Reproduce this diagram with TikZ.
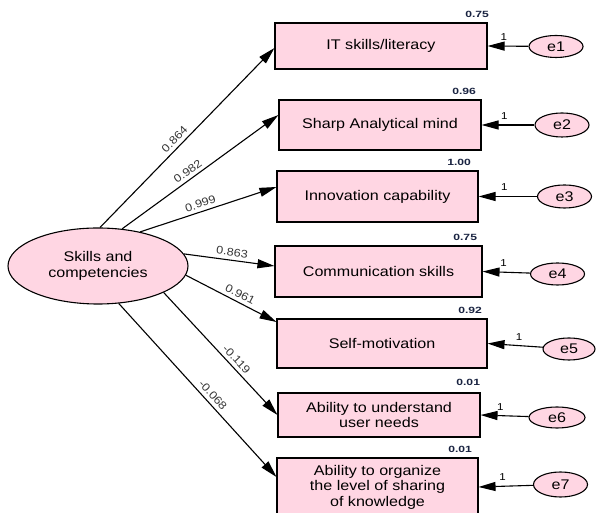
\documentclass[tikz,border=0pt]{standalone}
\usepackage{fontspec}
\setmainfont{Liberation Sans}[FakeStretch=1.15]
\newfontfamily\smallfont{Liberation Sans}[FakeStretch=1.35]
\usetikzlibrary{arrows.meta,shapes.geometric,positioning,calc}
\definecolor{boxpink}{RGB}{255,214,227}
\definecolor{labgray}{RGB}{55,55,55}
\definecolor{varblack}{RGB}{25,35,65}

\begin{document}
\begin{tikzpicture}[x=1pt,y=1pt,>={Triangle[length=17pt,width=9pt]},line width=1.1pt,
	item node/.style={rectangle,draw,fill=boxpink,inner sep=0pt,align=center,font=\fontsize{14}{15.5}\selectfont},
	latent node/.style={ellipse,draw,fill=boxpink,inner sep=0pt,align=center,font=\fontsize{14}{15.5}\selectfont},
	error node/.style={ellipse,draw,fill=boxpink,inner sep=0pt,minimum width=54pt,minimum height=22pt,font=\fontsize{14}{16}\selectfont},
	var label/.style={anchor=south east,inner sep=1pt,yshift=3pt,text=varblack,font=\smallfont\bfseries\fontsize{9}{10}\selectfont}]
	\useasboundingbox (0,0) rectangle (596,513);

	\node[latent node,minimum width=180pt,minimum height=76pt] (SC) at (98,247) {Skills and\\competencies};

	\node[item node,minimum width=212pt,minimum height=46pt,label={[var label,xshift=3pt]north east:0.75}] (IT) at (381,467) {IT skills/literacy};
	\node[item node,minimum width=202pt,minimum height=50pt,label={[var label,xshift=-4pt]north east:0.96}] (SA) at (380,388) {Sharp Analytical mind};
	\node[item node,minimum width=201pt,minimum height=51pt,label={[var label,xshift=-6pt]north east:1.00}] (IC) at (377.5,316.5) {Innovation capability};
	\node[item node,minimum width=207pt,minimum height=51pt,label={[var label,xshift=-4pt]north east:0.75}] (CS) at (378.5,241.5) {Communication skills};
	\node[item node,minimum width=210pt,minimum height=49pt,label={[var label,xshift=-4pt]north east:0.92}] (SM) at (382,169.5) {Self-motivation};
	\node[item node,minimum width=202pt,minimum height=44pt,label={[var label,xshift=1pt,yshift=2pt]north east:0.01}] (UN) at (379,98) {Ability to understand\\user needs};
	\node[item node,minimum width=201pt,minimum height=58pt,label={[var label,xshift=-5pt]north east:0.01}] (OK) at (377.5,26) {Ability to organize\\the level of sharing\\of knowledge};

	\node[error node] (e1) at (556,466.5) {e1};
	\node[error node,minimum height=24pt] (e2) at (562,388) {e2};
	\node[error node,minimum height=23pt] (e3) at (564.5,316.5) {e3};
	\node[error node] (e4) at (557.5,239) {e4};
	\node[error node,minimum width=52pt] (e5) at (569,164) {e5};
	\node[error node,minimum width=56pt,minimum height=21pt] (e6) at (557,95.5) {e6};
	\node[error node,minimum height=25pt] (e7) at (560.5,28.5) {e7};

	% loadings
	\path[->,every node/.style={sloped,above=2pt,inner sep=1.5pt,text=labgray,font=\fontsize{11}{12}\selectfont}]
	(SC.87) edge node[pos=0.46] {0.864} ($(IT.west)+(0,-2)$)
	(SC.57) edge node[pos=0.45] {0.982} ($(SA.west)+(0,10)$)
	(SC.39) edge node[pos=0.46] {0.999} ($(IC.west)+(0,9.5)$)
	(SC.8.5) edge node[pos=0.52] {0.863} ($(CS.west)+(0,5.5)$)
	(SC.-6) edge node[pos=0.56] {0.961} ($(SM.west)+(0,21.5)$)
	(SC.-22) edge node[pos=0.59] {-0.119} (UN.west)
	(SC.-61) edge node[pos=0.56] {-0.068} ($(OK.west)+(0,10)$);

	% errors
	\path[->,every node/.style={above=4pt,inner sep=1pt,font=\fontsize{10}{11}\selectfont}]
	(e1) edge node[pos=0.6] {1} (IT.east)
	(e2) edge node[pos=0.57] {1} (SA.east)
	(e3) edge node[pos=0.56] {1} (IC.east)
	(e4) edge node[pos=0.56] {1} (CS.east)
	(e5) edge node[pos=0.43] {1} (SM.east)
	(e6) edge node[pos=0.59] {1} (UN.east)
	(e7) edge node[pos=0.56] {1} (OK.east);

\end{tikzpicture}
\end{document}
